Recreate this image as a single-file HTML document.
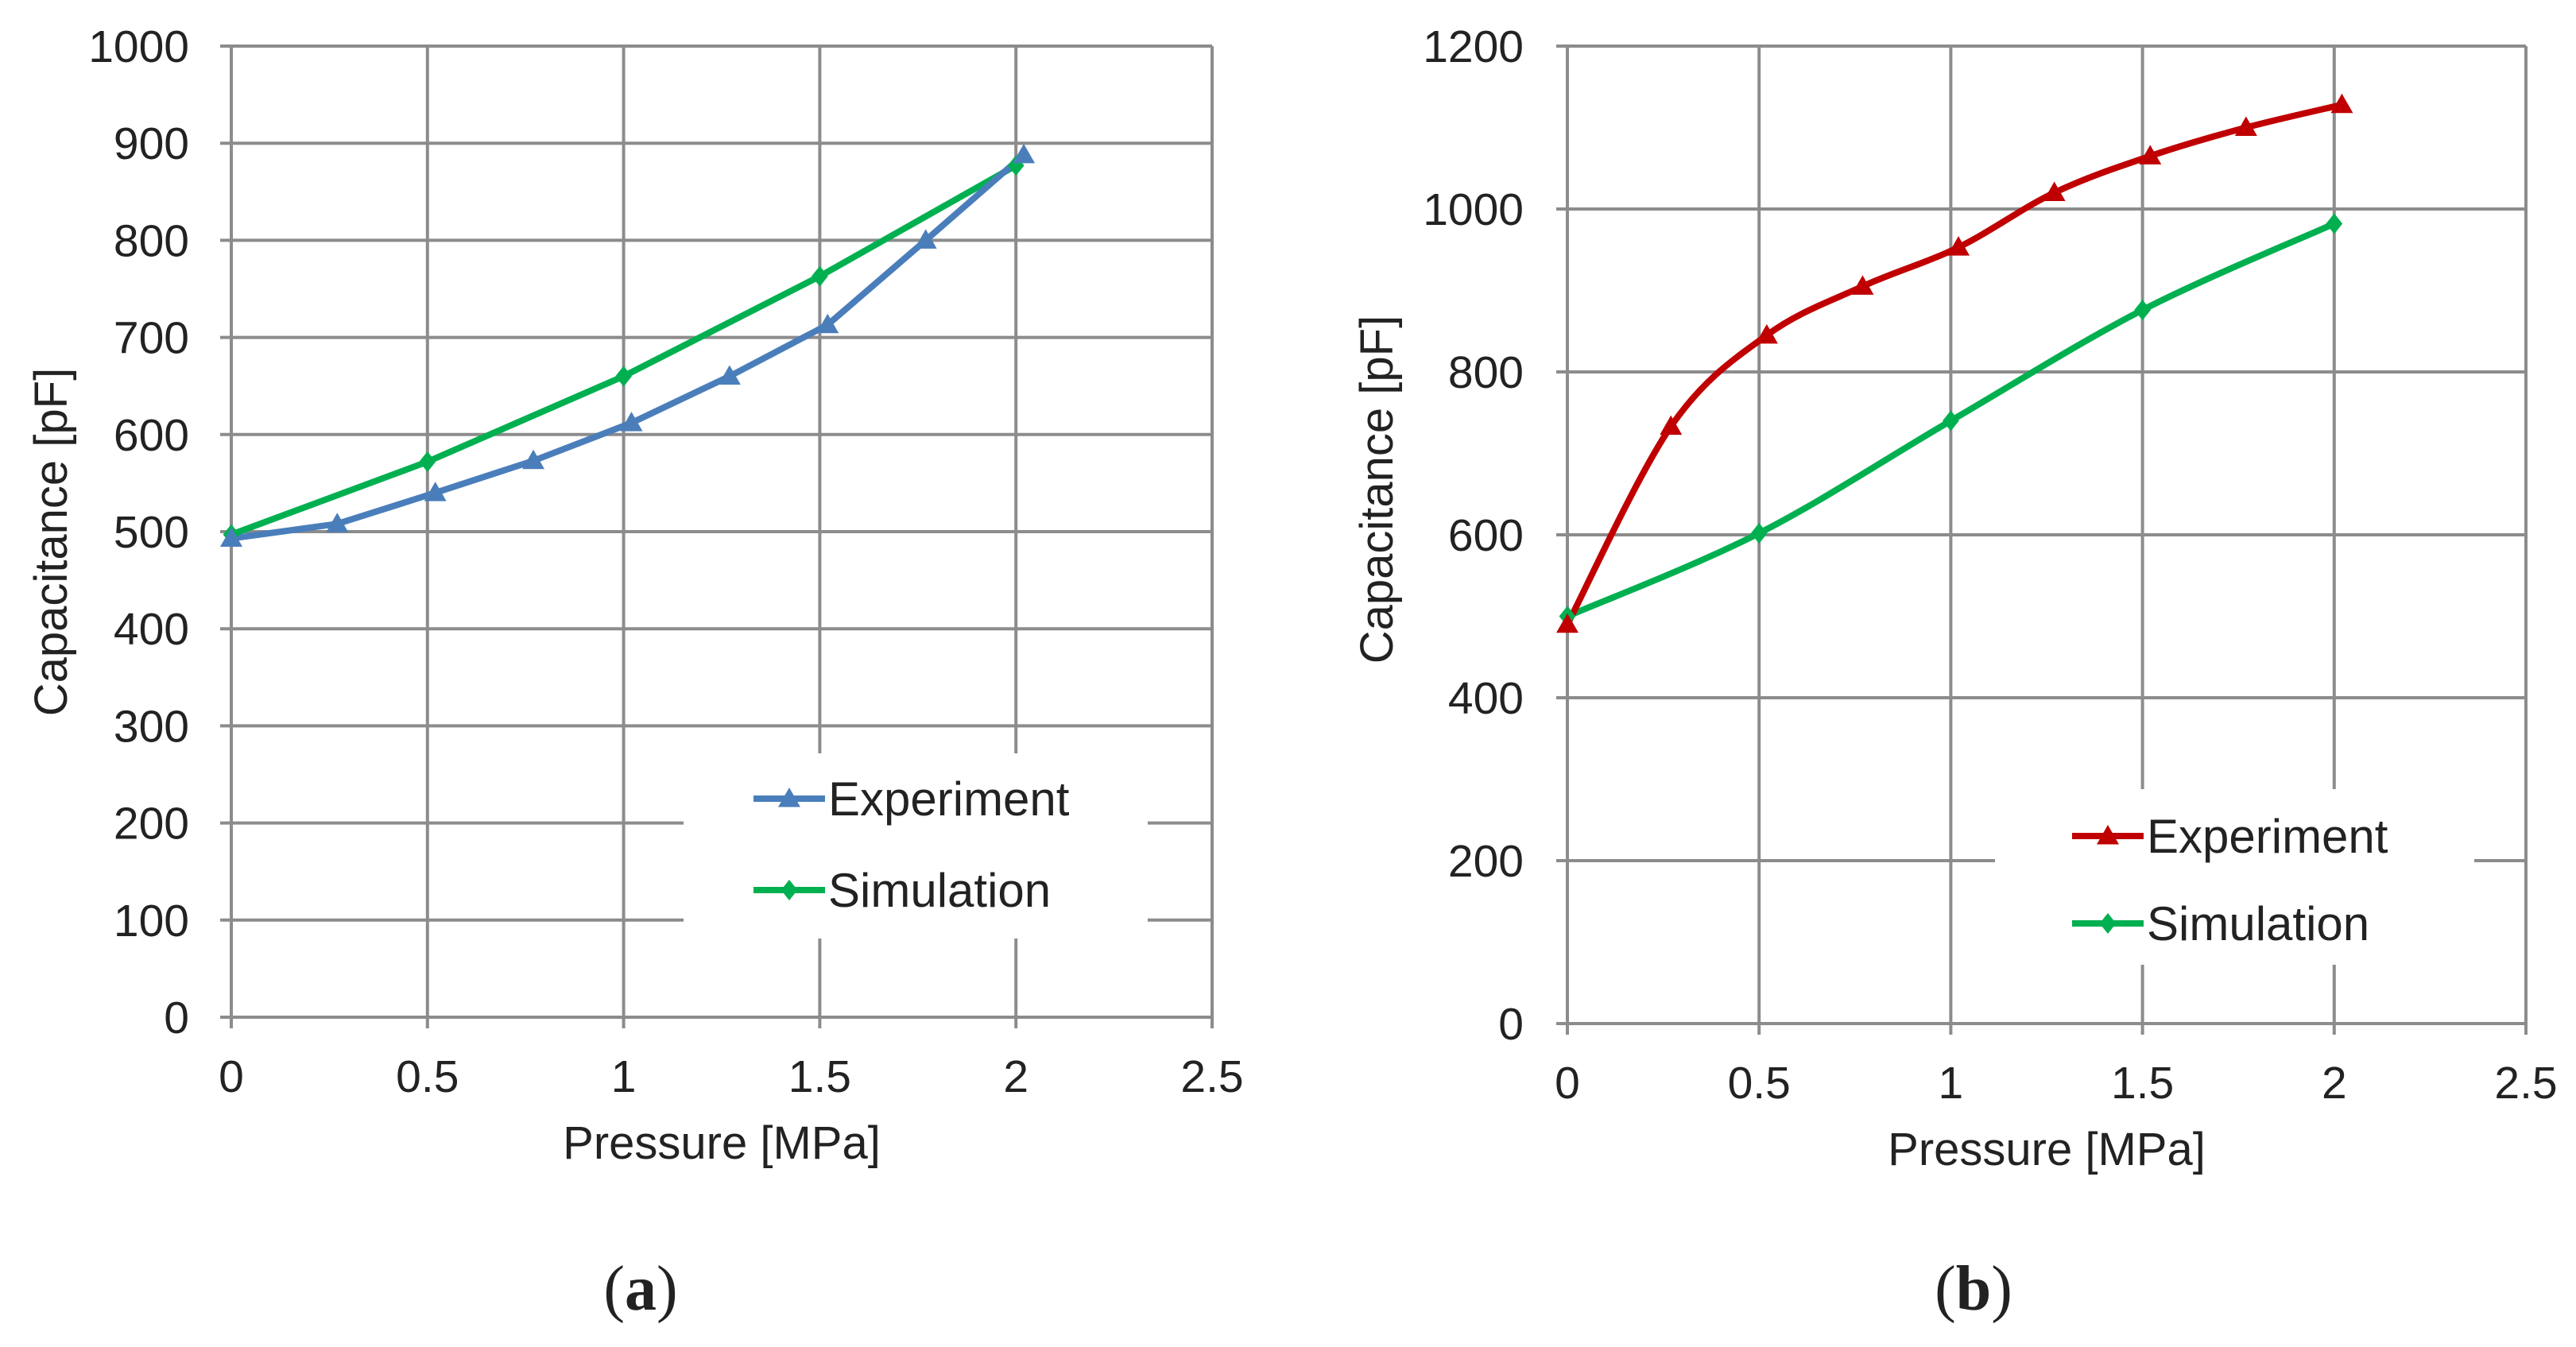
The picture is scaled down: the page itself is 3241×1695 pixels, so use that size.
<!DOCTYPE html>
<html><head><meta charset="utf-8"><style>
html,body{margin:0;padding:0;background:#fff}
svg{display:block}
text{font-family:"Liberation Sans",sans-serif;fill:#222}
</style></head><body>
<svg id="fig" width="3241" height="1695" viewBox="0 0 3241 1695" xmlns="http://www.w3.org/2000/svg"></svg>
<script>
// ---- data ----
const xTicks = [0, 0.5, 1, 1.5, 2, 2.5];
const xTickLabels = ["0", "0.5", "1", "1.5", "2", "2.5"];
const aYTicks = [0,100,200,300,400,500,600,700,800,900,1000];
const bYTicks = [0,200,400,600,800,1000,1200];
const aExpX = [0, 0.27, 0.52, 0.77, 1.02, 1.27, 1.52, 1.77, 2.02];
const aExpY = [493, 508, 540, 573, 612, 660, 713, 800, 888];
const aSimX = [0, 0.5, 1, 1.5, 2];
const aSimY = [497, 572, 660, 763, 877];
const bExpX = [0, 0.27, 0.52, 0.77, 1.02, 1.27, 1.52, 1.77, 2.02];
const bExpY = [490, 733, 845, 905, 953, 1020, 1065, 1100, 1128];
const bSimX = [0, 0.5, 1, 1.5, 2];
const bSimY = [500, 602, 740, 876, 982];

const NS = "http://www.w3.org/2000/svg";
const svg = document.getElementById('fig');
function mk(tag, attrs, parent, txt){
  const e = document.createElementNS(NS, tag);
  for (const k in attrs) e.setAttribute(k, attrs[k]);
  if (txt !== undefined) e.textContent = txt;
  (parent || svg).appendChild(e);
  return e;
}
function smoothPath(pts){
  let d = `M${pts[0][0]},${pts[0][1]}`;
  for (let i=0;i<pts.length-1;i++){
    const p0=pts[Math.max(0,i-1)], p1=pts[i], p2=pts[i+1], p3=pts[Math.min(pts.length-1,i+2)];
    const t=1/6;
    const c1=[p1[0]+(p2[0]-p0[0])*t, p1[1]+(p2[1]-p0[1])*t];
    const c2=[p2[0]-(p3[0]-p1[0])*t, p2[1]-(p3[1]-p1[1])*t];
    d += ` C${c1[0]},${c1[1]} ${c2[0]},${c2[1]} ${p2[0]},${p2[1]}`;
  }
  return d;
}
function tri(g, x, y, color, s){
  const m = mk('polygon', {points:`${x},${y-s} ${x-s},${y+s*0.75} ${x+s},${y+s*0.75}`, fill:color}, g);
  
  
}
function dia(g, x, y, color, s){
  const m = mk('polygon', {points:`${x},${y-s} ${x+s*0.8},${y} ${x},${y+s} ${x-s*0.8},${y}`, fill:color}, g);
  
  
}

function chart(cfg){
  const g = mk('g', {});
  
  
  const sx = v => cfg.x0 + (cfg.x1 - cfg.x0) * v / 2.5;
  const sy = v => cfg.y0 - (cfg.y0 - cfg.y1) * v / cfg.ymax;
  cfg.yTicks.forEach(t => {
    const l = mk('line', {x1:cfg.x0-14, x2:cfg.x1, y1:sy(t), y2:sy(t), stroke:'#8c8c8c', 'stroke-width':4}, g);
    
    
    const tl = mk('text', {x:cfg.ylabX, y:sy(t)+20, 'text-anchor':'end', 'font-size':57}, g, String(t));
    
    
  });
  xTicks.forEach((t,i) => {
    const l = mk('line', {x1:sx(t), x2:sx(t), y1:cfg.y1, y2:cfg.y0+14, stroke:'#8c8c8c', 'stroke-width':4}, g);
    
    
    const tl = mk('text', {x:sx(t), y:cfg.y0+94, 'text-anchor':'middle', 'font-size':57}, g, xTickLabels[i]);
    
    
  });
  const xt = mk('text', {x:(cfg.x0+cfg.x1)/2, y:cfg.y0+178, 'text-anchor':'middle', 'font-size':58}, g, 'Pressure [MPa]');
  
  
  const yt = mk('text', {x:0, y:0, 'text-anchor':'middle', 'font-size':58, transform:`translate(${cfg.ytitleX},${cfg.ytitleY}) rotate(-90)`}, g, 'Capacitance [pF]');
  
  
  const lb = mk('rect', {x:cfg.lg.x, y:cfg.lg.y, width:cfg.lg.w, height:cfg.lg.h, fill:'#fff'}, g);
  
  
  const ePts = cfg.ex.map((v,i) => [sx(v), sy(cfg.ey[i])]);
  const sPts = cfg.sxv.map((v,i) => [sx(v), sy(cfg.syv[i])]);
  const sp = mk('path', {d: cfg.smooth ? smoothPath(sPts) : 'M'+sPts.map(p=>p.join(',')).join(' L'), fill:'none', stroke:'#00b050', 'stroke-width':8, 'stroke-linejoin':'round'}, g);
  
  
  const ep = mk('path', {d: cfg.smooth ? smoothPath(ePts) : 'M'+ePts.map(p=>p.join(',')).join(' L'), fill:'none', stroke:cfg.ecol, 'stroke-width':8, 'stroke-linejoin':'round'}, g);
  
  
  sPts.forEach(p => dia(g, p[0], p[1], '#00b050', 13));
  ePts.forEach(p => tri(g, p[0], p[1], cfg.ecol, 14));
  [['Experiment', cfg.ecol, 'tri', cfg.lg.ey], ['Simulation', '#00b050', 'dia', cfg.lg.sy]].forEach(([lbl,col,mkType,y]) => {
    const le = mk('g', {}, g);
    
    
    mk('line', {x1:cfg.lg.lx, x2:cfg.lg.lx+90, y1:y, y2:y, stroke:col, 'stroke-width':8}, le);
    if (mkType==='tri') tri(le, cfg.lg.lx+45, y, col, 14); else dia(le, cfg.lg.lx+45, y, col, 13);
    mk('text', {x:cfg.lg.lx+94, y:y+21, 'font-size':60}, le, lbl);
  });
}

chart({name:'chart-a', x0:291, x1:1525, y0:1280, y1:58, ymax:1000, yTicks:aYTicks, ylabX:238,
  ytitleX:84, ytitleY:682, ex:aExpX, ey:aExpY, sxv:aSimX, syv:aSimY, ecol:'#4a7ebb', smooth:false,
  lg:{x:860, y:948, w:584, h:233, lx:948, ey:1005, sy:1120}});
chart({name:'chart-b', x0:1972, x1:3178, y0:1288, y1:58, ymax:1200, yTicks:bYTicks, ylabX:1917,
  ytitleX:1752, ytitleY:616, ex:bExpX, ey:bExpY, sxv:bSimX, syv:bSimY, ecol:'#c00000', smooth:true,
  lg:{x:2510, y:993, w:603, h:221, lx:2607, ey:1052, sy:1162}});

const ca = mk('text', {x:806, y:1648, 'text-anchor':'middle', 'font-size':80, style:'font-family:"Liberation Serif",serif'}, svg, '');


ca.innerHTML = '(<tspan font-weight="bold">a</tspan>)';
const cb = mk('text', {x:2483, y:1648, 'text-anchor':'middle', 'font-size':80, style:'font-family:"Liberation Serif",serif'}, svg, '');


cb.innerHTML = '(<tspan font-weight="bold">b</tspan>)';
</script>
</body></html>
